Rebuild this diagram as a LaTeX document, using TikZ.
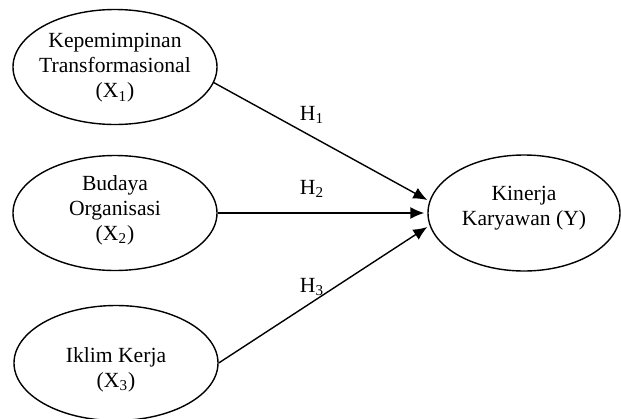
\documentclass[tikz,border=0pt]{standalone}
\usepackage{fontspec}
\setmainfont{Liberation Serif}
\usetikzlibrary{shapes.geometric,arrows.meta}

\begin{document}
\begin{tikzpicture}[x=0.5pt,y=-0.5pt,>={Latex[length=7pt,width=6pt]},
    font=\fontsize{10.8}{12.5}\selectfont,line width=0.7pt,
    var/.style={draw,ellipse,inner sep=0pt,minimum width=102pt,minimum height=57.5pt},
    txt/.style={align=center,inner sep=0pt},
    hyp/.style={inner sep=0pt}]
    \useasboundingbox (0,0) rectangle (621,418);

    % Variabel bebas dan terikat.
    \node[var] (x1) at (115,67) {};
    \node[var] (x2) at (115,213) {};
    \node[var] (x3) at (116,363) {};
    \node[var,minimum width=96pt,minimum height=58pt] (ky) at (524,213) {};

    % Teks di dalam elips.
    \node[txt] (x1txt) at (115,68) {Kepemimpinan\\Transformasional\\(X\textsubscript{1})};
    \node[txt] (x2txt) at (115,210) {Budaya\\Organisasi\\(X\textsubscript{2})};
    \node[txt] (x3txt) at (116,370) {Iklim Kerja\\(X\textsubscript{3})};
    \node[txt] (kytxt) at (524,208) {Kinerja\\Karyawan (Y)};

    % Hipotesis.
    \draw[->] (x1.-9) -- ([yshift=6.5pt]ky.west);
    \draw[->] (x2.east) -- ([xshift=-1.5pt]ky.west);
    \draw[->] (x3.east) -- ([yshift=-7pt]ky.west);
    \node[hyp] (h1) at (312,115) {H\textsubscript{1}};
    \node[hyp] (h2) at (312,189) {H\textsubscript{2}};
    \node[hyp] (h3) at (312,287) {H\textsubscript{3}};
\end{tikzpicture}
\end{document}
